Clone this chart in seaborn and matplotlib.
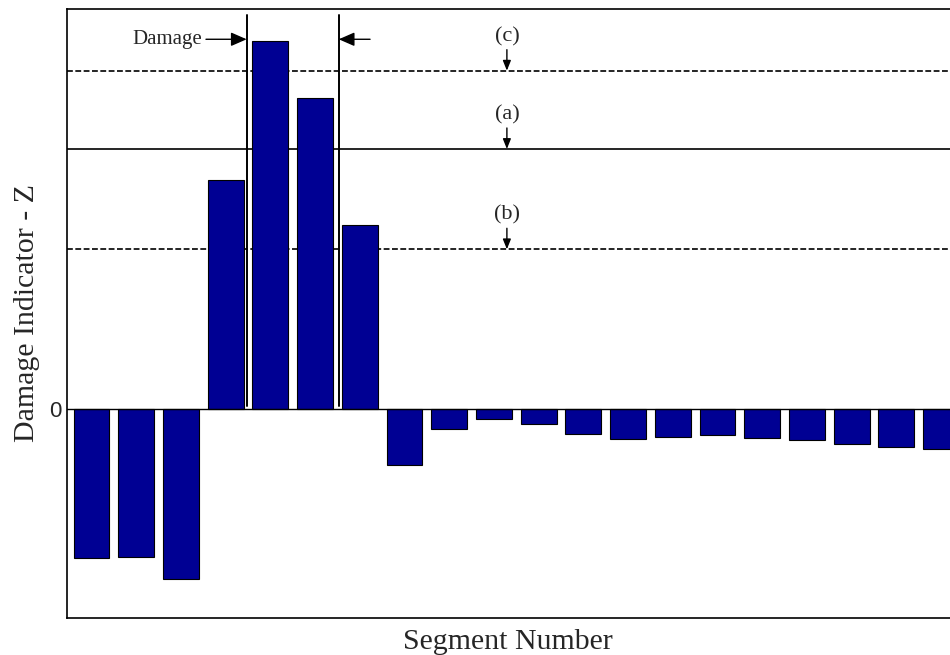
import matplotlib
matplotlib.use("Agg")
import matplotlib.pyplot as plt
import seaborn as sns
import pandas as pd

# Damage indicator Z for each beam segment
segments = list(range(1, 21))
z_values = [-1.49, -1.474, -1.697, 2.293, 3.68, 3.113, 1.843, -0.554, -0.194, -0.094,
            -0.147, -0.247, -0.294, -0.277, -0.254, -0.284, -0.31, -0.347, -0.374, -0.394]

# Classification thresholds
threshold_names = ["(c)", "(a)", "(b)"]
threshold_values = [3.386, 2.603, 1.60]
threshold_styles = ["--", "-", "--"]

# Boundaries of the damaged region (between segments)
damage_bounds = [3.47, 5.53]

df = pd.DataFrame({"Segment": segments, "Z": z_values})

sns.set_theme(style="white")
plt.rcParams["font.family"] = ["Liberation Serif", "DejaVu Serif"]

fig = plt.figure(figsize=(9.5, 6.55), dpi=100)
ax = fig.add_axes([0.0702, 0.0565, 0.9298, 0.9298])

sns.barplot(data=df, x="Segment", y="Z", color="#000093", saturation=1,
            width=0.8, edgecolor="black", linewidth=0.8, ax=ax, zorder=2)

ax.set_xlim(-0.555, 19.2)
ax.set_ylim(-2.087, 4.003)

ax.axhline(0, color="black", lw=1.0, zorder=3)

for val, ls in zip(threshold_values, threshold_styles):
    ax.axhline(val, color="black", lw=1.2, ls=ls, dashes=(3.5, 1.5) if ls == "--" else (None, None),
               zorder=1)

for xb in damage_bounds:
    ax.plot([xb, xb], [0.036, 3.946], color="black", lw=1.4, zorder=3)

# Damage region arrows
ax.annotate("", xy=(damage_bounds[0], 3.70), xytext=(2.56, 3.70),
            arrowprops=dict(arrowstyle="-|>,head_length=0.8,head_width=0.35",
                            color="black", lw=1.0, shrinkA=0, shrinkB=0))
ax.annotate("", xy=(damage_bounds[1], 3.70), xytext=(6.23, 3.70),
            arrowprops=dict(arrowstyle="-|>,head_length=0.8,head_width=0.35",
                            color="black", lw=1.0, shrinkA=0, shrinkB=0))
ax.text(2.47, 3.70, "Damage", ha="right", va="center", fontsize=15)

# Threshold labels
label_x = 9.29
for name, val in zip(threshold_names, threshold_values):
    ax.annotate("", xy=(label_x, val), xytext=(label_x, val + 0.21),
                arrowprops=dict(arrowstyle="-|>,head_length=0.5,head_width=0.2",
                                color="black", lw=1.0, shrinkA=0, shrinkB=0))
    ax.text(label_x, val + 0.34, name, ha="center", va="center", fontsize=16)

ax.set_xticks([])
ax.set_yticks([0])
ax.set_yticklabels(["0"], fontsize=16, family=["Liberation Sans", "DejaVu Sans"])
ax.tick_params(axis="y", length=0, pad=4)

ax.set_xlabel("Segment Number", fontsize=21.5, labelpad=8)
ax.set_ylabel("Damage Indicator - Z", fontsize=21.5, labelpad=6)

for side in ["left", "top", "bottom"]:
    ax.spines[side].set_color("black")
    ax.spines[side].set_linewidth(1.2)
ax.spines["right"].set_visible(False)

fig.savefig("out.png", dpi=100)
